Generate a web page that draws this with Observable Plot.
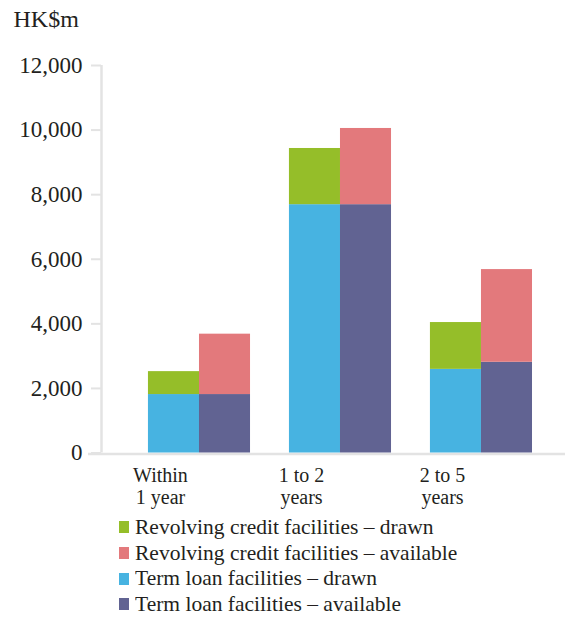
<!DOCTYPE html>
<html>
<head>
<meta charset="utf-8">
<script src="https://cdn.jsdelivr.net/npm/d3@7"></script>
<script src="https://cdn.jsdelivr.net/npm/@observablehq/plot@0.6"></script>
<style>
  body { margin: 0; background: #fff; color: #231f20; font-family: "Liberation Serif", "Times New Roman", serif; }
  #unit { font-size: 24px; line-height: 24px; height: 28px; padding: 7px 0 0 13.5px; }
</style>
</head>
<body>
<div id="unit">HK$m</div>
<div id="chart"></div>
<script>
// Maturity buckets (x axis labels)
const periods = ["Within\n1 year", "1 to 2\nyears", "2 to 5\nyears"];

// Facility series, in legend order
const series = [
  "Revolving credit facilities – drawn",
  "Revolving credit facilities – available",
  "Term loan facilities – drawn",
  "Term loan facilities – available"
];
const colors = ["#95be29", "#e3797c", "#47b3e1", "#616392"];

// Amounts, HK$m
const termDrawn = [1810, 7690, 2590];
const revolvingDrawn = [710, 1740, 1450];
const termAvailable = [1810, 7690, 2810];
const revolvingAvailable = [1870, 2360, 2870];

const yTicks = [0, 2000, 4000, 6000, 8000, 10000, 12000];

// Each bucket sits at an integer x; drawn bar to its left, available bar to its right.
const barWidth = 0.362;            // in bucket units
const xDomain = [-0.695, 2.596];
const axisGrey = "#e3e3e3";

const rows = [];
periods.forEach((p, i) => {
  // drawn: term loans at the base, revolving credit stacked above
  rows.push({x1: i - barWidth, x2: i, y1: 0, y2: termDrawn[i], series: series[2]});
  rows.push({x1: i - barWidth, x2: i, y1: termDrawn[i], y2: termDrawn[i] + revolvingDrawn[i], series: series[0]});
  // available
  rows.push({x1: i, x2: i + barWidth, y1: 0, y2: termAvailable[i], series: series[3]});
  rows.push({x1: i, x2: i + barWidth, y1: termAvailable[i], y2: termAvailable[i] + revolvingAvailable[i], series: series[1]});
});

const chart = Plot.plot({
  width: 565,
  height: 480,
  marginLeft: 101,
  marginRight: 0,
  marginTop: 30,
  marginBottom: 62.5,
  style: {fontFamily: '"Liberation Serif", "Times New Roman", serif', fontSize: "20px", color: "#231f20", background: "transparent"},
  x: {domain: xDomain},
  y: {domain: [0, 12000]},
  color: {domain: series, range: colors},
  marks: [
    Plot.ruleY([0], {stroke: axisGrey, strokeWidth: 2.5, insetLeft: -13, dy: 1}),
    Plot.ruleX([xDomain[0]], {y1: 0, y2: 12000, stroke: axisGrey, strokeWidth: 2.5}),
    Plot.rect(rows, {x1: "x1", x2: "x2", y1: "y1", y2: "y2", fill: "series"}),
    Plot.axisY({
      ticks: yTicks, tickFormat: d3.format(","), tickSize: 10, tickPadding: 9,
      stroke: axisGrey, strokeWidth: 2, fill: "#231f20", fontSize: 23, label: null
    }),
    Plot.axisX({
      ticks: [0, 1, 2], tickFormat: i => periods[i], tickSize: 0, tickPadding: 13,
      fill: "#231f20", fontSize: 20, lineHeight: 1.1, dx: -39, label: null
    })
  ]
});
document.getElementById("chart").appendChild(chart);

// Vertical legend below the chart
const legend = chart.legend("color", {columns: 1, swatchWidth: 10, swatchHeight: 12});
legend.style.fontFamily = '"Liberation Serif", "Times New Roman", serif';
legend.style.fontSize = "21.5px";
legend.style.lineHeight = "24.7px";
legend.style.color = "#231f20";
legend.style.marginLeft = "119px";
legend.style.marginTop = "0";
legend.querySelectorAll("svg").forEach(s => { s.style.marginRight = "6px"; });
document.body.appendChild(legend);
</script>
</body>
</html>
